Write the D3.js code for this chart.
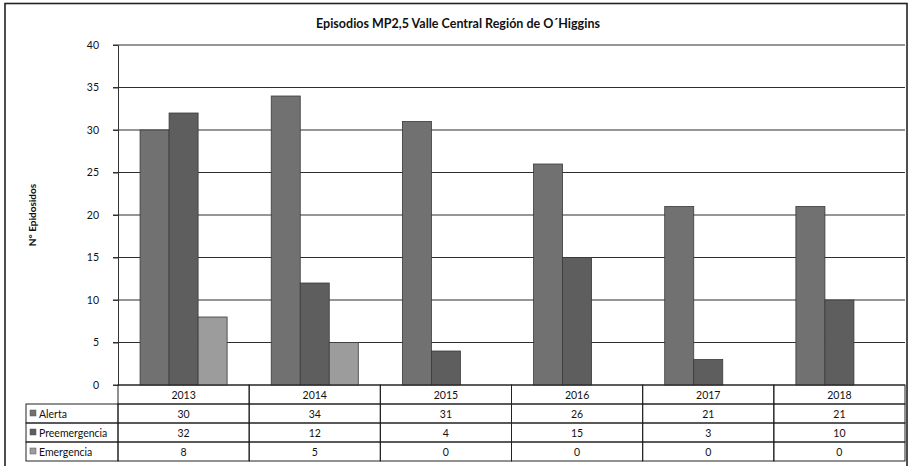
<!DOCTYPE html>
<html><head><meta charset="utf-8">
<script src="https://cdn.jsdelivr.net/npm/d3@7"></script>
<style>
body{margin:0;background:#fff;}
text{font-family:Lato,"Open Sans",sans-serif;fill:#111;}
</style></head>
<body>
<svg id="c" width="910" height="466"></svg>
<script>
const years = ["2013","2014","2015","2016","2017","2018"];
const seriesNames = ["Alerta","Preemergencia","Emergencia"];
const alerta = [30,34,31,26,21,21];
const preemergencia = [32,12,4,15,3,10];
const emergencia = [8,5,0,0,0,0];
const yTicks = [0,5,10,15,20,25,30,35,40];
const colors = ["#717171","#5e5e5e","#9c9c9c"];
const title = "Episodios MP2,5 Valle Central Región de O´Higgins";
const yLabel = "N° Epidosidos";

const seriesVals = [alerta, preemergencia, emergencia];
const svg = d3.select("#c");
const L = 118, R = 905, T = 45, B = 385;

// outer frame
svg.append("rect").attr("x",5).attr("y",3.5).attr("width",902).attr("height",470)
  .attr("fill","none").attr("stroke","#222").attr("stroke-width",1.6);

svg.append("text").attr("x",458).attr("y",28).attr("text-anchor","middle")
  .attr("font-size",12.5).attr("font-weight","bold").text(title);

const x0 = d3.scaleBand().domain(years).range([L,R]).paddingInner(0).paddingOuter(0);
const x1 = d3.scaleBand().domain(seriesNames).range([0,x0.bandwidth()]).paddingInner(0).paddingOuter(0.76);
const y = d3.scaleLinear().domain([0,40]).range([B,T]);

// gridlines
svg.append("g").selectAll("line").data(yTicks).join("line")
  .attr("x1",L-5).attr("x2",R).attr("y1",d=>y(d)).attr("y2",d=>y(d))
  .attr("stroke","#2e2e2e").attr("stroke-width",1.2);

// y axis
const ya = svg.append("g").attr("transform",`translate(${L},0)`)
  .call(d3.axisLeft(y).tickValues(yTicks).tickSize(5).tickPadding(14));
ya.select(".domain").attr("stroke","#333");
ya.selectAll(".tick line").attr("stroke","#333");
ya.selectAll("text").attr("font-size",10.5).style("font-family","Lato,'Open Sans',sans-serif").attr("fill","#111");

svg.append("text").attr("transform","translate(36,215) rotate(-90)")
  .attr("text-anchor","middle").attr("font-size",10).attr("font-weight","bold").text(yLabel);

// bars
const data = [];
years.forEach((yr,i)=>seriesNames.forEach((s,j)=>data.push({yr,s,j,v:seriesVals[j][i]})));
svg.append("g").selectAll("rect").data(data.filter(d=>d.v>0)).join("rect")
  .attr("x",d=>x0(d.yr)+x1(d.s)).attr("width",x1.bandwidth())
  .attr("y",d=>y(d.v)).attr("height",d=>B-y(d.v))
  .attr("fill",d=>colors[d.j]).attr("stroke","#3a3a3a").attr("stroke-width",0.8);

// table
const rowH = 19, tTop = B, tabL = 26;
const g = svg.append("g");
years.forEach(yr=>{
  g.append("rect").attr("x",x0(yr)).attr("y",tTop).attr("width",x0.bandwidth()).attr("height",rowH)
    .attr("fill","none").attr("stroke","#222").attr("stroke-width",1);
  g.append("text").attr("x",x0(yr)+x0.bandwidth()/2).attr("y",tTop+rowH/2+4)
    .attr("text-anchor","middle").attr("font-size",10.5).text(yr);
});
seriesNames.forEach((s,j)=>{
  const ry = tTop + rowH*(j+1);
  g.append("rect").attr("x",tabL).attr("y",ry).attr("width",L-tabL).attr("height",rowH)
    .attr("fill","none").attr("stroke","#222").attr("stroke-width",1);
  g.append("rect").attr("x",tabL+4).attr("y",ry+rowH/2-3.5).attr("width",6).attr("height",6)
    .attr("fill",colors[j]).attr("stroke","#555").attr("stroke-width",0.5);
  g.append("text").attr("x",tabL+13).attr("y",ry+rowH/2+4).attr("font-size",10.5).text(s);
  years.forEach((yr,i)=>{
    g.append("rect").attr("x",x0(yr)).attr("y",ry).attr("width",x0.bandwidth()).attr("height",rowH)
      .attr("fill","none").attr("stroke","#222").attr("stroke-width",1);
    g.append("text").attr("x",x0(yr)+x0.bandwidth()/2).attr("y",ry+rowH/2+4)
      .attr("text-anchor","middle").attr("font-size",10.5).text(seriesVals[j][i]);
  });
});
</script>
</body></html>
